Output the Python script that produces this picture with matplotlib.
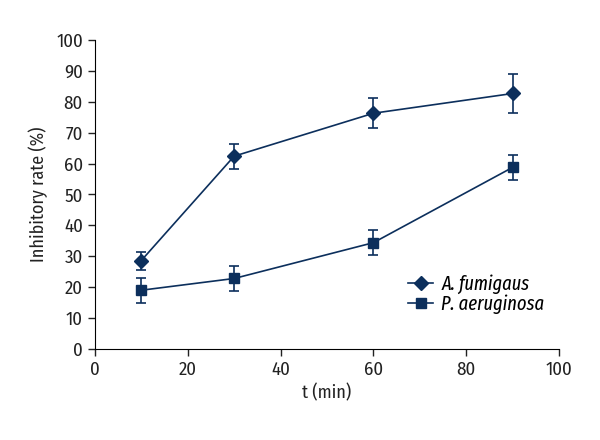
import matplotlib
matplotlib.use("Agg")
import matplotlib.pyplot as plt
from matplotlib.lines import Line2D

plt.rcParams['font.family'] = ['Fira Sans Condensed', 'DejaVu Sans']

t = [10, 30, 60, 90]
fumigaus = [28.6, 62.4, 76.3, 82.7]
fumigaus_err = [2.9, 4.0, 4.8, 6.3]
aeruginosa = [19.0, 22.8, 34.4, 58.8]
aeruginosa_err = [4.0, 4.0, 4.1, 4.0]
labels = ["A. fumigaus", "P. aeruginosa"]

color = "#0c2f5c"

fig = plt.figure(figsize=(6, 4.4), dpi=100)
ax = fig.add_axes([0.158, 0.207, 0.774, 0.702])

ax.errorbar(t, fumigaus, yerr=fumigaus_err, fmt='-D', color=color, markersize=7.3,
            lw=1.2, elinewidth=1.2, capsize=3.3, capthick=1.2)
ax.errorbar(t, aeruginosa, yerr=aeruginosa_err, fmt='-s', color=color, markersize=7.3,
            lw=1.2, elinewidth=1.2, capsize=3.3, capthick=1.2)

ax.set_xlim(0, 100)
ax.set_ylim(0, 100)
ax.set_xticks(range(0, 101, 20))
ax.set_yticks(range(0, 101, 10))
ax.spines['top'].set_visible(False)
ax.spines['right'].set_visible(False)
ax.tick_params(labelsize=13.5, length=5, width=1, color="#222222", labelcolor="#222222")
ax.set_xlabel("t (min)", fontsize=13, labelpad=4, color="#222222")
ax.set_ylabel("Inhibitory rate (%)", fontsize=13, labelpad=6, color="#222222")

handles = [Line2D([], [], color=color, marker='D', markersize=7.3, lw=1.2),
           Line2D([], [], color=color, marker='s', markersize=7.3, lw=1.2)]
ax.legend(handles, labels, loc="center left", bbox_to_anchor=(408 / 600, 1 - 294.5 / 440),
          bbox_transform=fig.transFigure, frameon=False,
          prop={'family': ['Fira Sans Extra Condensed', 'DejaVu Sans'], 'style': 'italic', 'size': 14.5},
          handlelength=1.25, handletextpad=0.4, labelspacing=0.02, borderpad=0, borderaxespad=0)

fig.savefig("out.png", dpi=100)
